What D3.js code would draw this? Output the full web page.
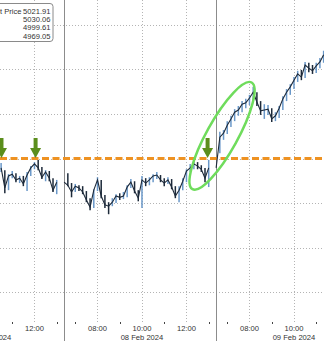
<!DOCTYPE html>
<html>
<head>
<meta charset="utf-8">
<script src="https://cdn.jsdelivr.net/npm/d3@7"></script>
<style>
  html, body { margin: 0; padding: 0; background: #fff; }
  svg { display: block; font-family: "Liberation Sans", Arial, sans-serif; }
</style>
</head>
<body>
<div id="chart"></div>
<script>
// trading days shown, each day slot runs 06:30 -> 13:20 (Pacific time)
let days = ["07 Feb 2024", "08 Feb 2024", "09 Feb 2024"];
let barStart = ["10:30", "06:40", "06:40"];   // first 10-min bar of each day

// 10 minute bars
let close1 = [4997.9,4993.4,4996.1,4996.5,4995.2,4995.6,4994.3,4996.3,4997.9,4998.8,4997.9,4995.8,4997.0,4995.6,4992.9,4994.7];
let high1  = [4999.0,4997.4,4996.5,4997.2,4996.7,4996.1,4996.1,4997.0,4998.3,4999.2,4999.7,4998.1,4997.4,4997.2,4995.6,4995.2];
let low1   = [4997.0,4992.2,4992.9,4995.6,4994.7,4994.5,4993.8,4992.7,4996.1,4997.6,4997.4,4995.4,4994.9,4994.9,4992.5,4992.0];

let close2 = [4994.0,4992.5,4993.8,4993.4,4992.5,4990.7,4989.1,4992.9,4995.2,4991.6,4989.6,4989.3,4990.2,4991.6,4991.3,4991.6,4993.6,4994.7,4992.7,4991.1,
              4995.2,4994.5,4995.2,4996.1,4996.3,4995.2,4994.5,4995.2,4993.6,4991.6,4992.9,4994.9,4997.2,4997.9,4998.8,4998.3,4997.6,4995.6,4997.9];
let high2  = [4996.7,4994.5,4994.3,4994.0,4993.8,4992.7,4991.1,4993.1,4995.8,4995.2,4991.8,4990.2,4991.1,4992.0,4992.2,4992.5,4994.0,4995.4,4994.9,4992.9,
              4996.1,4995.6,4995.8,4996.5,4997.0,4996.3,4995.6,4995.8,4995.4,4993.8,4993.8,4995.6,4997.6,4998.8,4999.4,4999.2,4998.5,4997.9,4999.7];
let low2   = [4993.8,4991.3,4992.5,4992.7,4992.0,4990.2,4988.4,4988.9,4992.7,4991.1,4988.9,4987.5,4989.3,4990.0,4990.7,4990.9,4991.3,4993.4,4992.2,4990.4,
              4988.9,4993.8,4994.0,4994.7,4995.4,4994.7,4993.8,4994.3,4993.1,4991.1,4990.2,4992.9,4994.7,4997.0,4997.6,4997.6,4997.0,4994.7,4993.6];

let close3 = [5004.8,5005.7,5007.5,5008.9,5010.4,5010.9,5012.2,5012.5,5013.6,5014.9,5012.7,5010.7,5010.9,5011.1,5008.9,5009.6,5011.3,5013.4,5014.9,5016.1,
              5017.6,5019.0,5018.3,5021.0,5020.3,5019.7,5020.8,5021.7,5023.3];
let high3  = [5006.0,5006.4,5008.4,5009.6,5011.1,5011.8,5012.9,5013.4,5014.3,5016.1,5014.9,5012.9,5012.2,5012.0,5011.3,5010.4,5011.8,5014.0,5015.6,5016.7,
              5018.3,5019.7,5019.9,5021.7,5021.5,5021.0,5021.5,5022.6,5024.2];
let low3   = [5001.2,5004.2,5005.5,5007.1,5008.4,5009.6,5010.4,5011.3,5012.0,5013.1,5011.8,5009.8,5008.9,5009.8,5008.2,5008.4,5009.1,5010.9,5012.9,5014.3,
              5015.6,5017.2,5017.6,5018.1,5019.4,5019.0,5019.2,5020.3,5021.5];

let level = 5000;
let priceTicks = [4970, 4980, 4990, 5000, 5010, 5020, 5030];
let labelTimes = ["08:00", "10:00", "12:00"];
let minorTimes = ["07:00", "09:00", "11:00", "13:00"];

let legendLabels = ["Last Price"];
let legendValues = ["5021.91", "5030.06", "4999.61", "4969.05"];

let arrowDays = [0, 0, 1];
let arrowTimes = ["10:31", "12:03", "12:57"];
let circleAt = [2, "06:46", 5005.1];

let width = 324, height = 341, plotBottom = 322;
let slot = 410;

function mins(s) { let p = s.split(":").map(Number); return p[0] * 60 + p[1] - 390; }
function tval(d, s) { return d * slot + mins(s); }

let x = d3.scaleLinear().domain([tval(0, "10:27"), tval(2, "11:21")]).range([0, width]);
let y = d3.scaleLinear().domain([4963.3, 5035.6]).range([plotBottom, 0]);

let svg = d3.select("#chart").append("svg")
    .attr("width", width)
    .attr("height", height);

// grid
svg.append("g")
    .selectAll("line")
    .data(priceTicks)
    .enter().append("line")
    .attr("x1", 0).attr("x2", width)
    .attr("y1", d => Math.round(y(d)) + 0.5).attr("y2", d => Math.round(y(d)) + 0.5)
    .attr("stroke", "#b4b4b4")
    .attr("stroke-dasharray", "1,2");

let labelTicks = [];
days.forEach((dd, i) => labelTimes.forEach(t => labelTicks.push({day: i, time: t})));
svg.append("g")
    .selectAll("line")
    .data(labelTicks)
    .enter().append("line")
    .attr("x1", d => Math.round(x(tval(d.day, d.time))) + 0.5)
    .attr("x2", d => Math.round(x(tval(d.day, d.time))) + 0.5)
    .attr("y1", 0).attr("y2", plotBottom)
    .attr("stroke", "#b4b4b4")
    .attr("stroke-dasharray", "1,2");

// day separators
svg.append("g")
    .selectAll("line")
    .data([1, 2])
    .enter().append("line")
    .attr("x1", d => Math.round(x(d * slot)) + 0.5)
    .attr("x2", d => Math.round(x(d * slot)) + 0.5)
    .attr("y1", 0).attr("y2", height)
    .attr("stroke", "#8c8c8c");

// x axis
let minorTicks = [];
days.forEach((dd, i) => minorTimes.forEach(t => minorTicks.push({day: i, time: t})));
svg.append("g")
    .selectAll("line")
    .data(minorTicks)
    .enter().append("line")
    .attr("x1", d => Math.round(x(tval(d.day, d.time))) + 0.5)
    .attr("x2", d => Math.round(x(tval(d.day, d.time))) + 0.5)
    .attr("y1", plotBottom).attr("y2", plotBottom + 2)
    .attr("stroke", "#444");

svg.append("g")
    .attr("font-size", 7.6)
    .attr("fill", "#333")
    .attr("text-anchor", "middle")
    .selectAll("text")
    .data(labelTicks)
    .enter().append("text")
    .attr("x", d => x(tval(d.day, d.time)))
    .attr("y", 331)
    .text(d => d.time);

svg.append("g")
    .attr("font-size", 7.6)
    .attr("fill", "#333")
    .attr("text-anchor", "middle")
    .selectAll("text")
    .data(days)
    .enter().append("text")
    .attr("x", (d, i) => x(tval(i, "10:00")))
    .attr("y", 339.5)
    .text(d => d);

// 5000 level
svg.append("line")
    .attr("x1", 0).attr("x2", width)
    .attr("y1", y(level)).attr("y2", y(level))
    .attr("stroke", "#ee9222")
    .attr("stroke-width", 3)
    .attr("stroke-dasharray", "7,3.5");

// price bars
let closes = [close1, close2, close3], highs = [high1, high2, high3], lows = [low1, low2, low3];
let bars = [], prev = null;
closes.forEach((c, d) => {
    let pts = [];
    if (prev !== null) pts.push({t: d * slot, v: prev});
    c.forEach((v, i) => {
        let t = tval(d, barStart[d]) + i * 10;
        bars.push({t: t, hi: highs[d][i], lo: lows[d][i], up: prev === null || v >= prev});
        pts.push({t: t, v: v});
        prev = v;
    });
    bars.push({path: pts});
});

svg.append("g")
    .selectAll("line")
    .data(bars.filter(b => !b.path))
    .enter().append("line")
    .attr("x1", d => x(d.t)).attr("x2", d => x(d.t))
    .attr("y1", d => y(d.hi)).attr("y2", d => y(d.lo))
    .attr("stroke", d => d.up ? "#6a98c9" : "#1d2a3a")
    .attr("stroke-width", 1.5);

let line = d3.line().x(d => x(d.t)).y(d => y(d.v));
svg.append("g")
    .selectAll("path")
    .data(bars.filter(b => b.path))
    .enter().append("path")
    .attr("d", d => line(d.path))
    .attr("fill", "none")
    .attr("stroke", "#1d2a3a")
    .attr("stroke-width", 1.1);

// annotations
svg.append("ellipse")
    .attr("transform", "translate(" + x(tval(circleAt[0], circleAt[1])) + "," + y(circleAt[2]) + ") rotate(-61)")
    .attr("rx", 61).attr("ry", 15.5)
    .attr("fill", "none")
    .attr("stroke", "#6fdc5c")
    .attr("stroke-width", 2.5);

svg.append("g")
    .selectAll("path")
    .data(arrowTimes)
    .enter().append("path")
    .attr("transform", (d, i) => "translate(" + x(tval(arrowDays[i], d)) + "," + (y(level) - 0.5) + ")")
    .attr("d", "M-2,-20H2V-10H5.5L0,0L-5.5,-10H-2Z")
    .attr("fill", "#5b8e1c");

// legend
let lg = svg.append("g");
lg.append("rect")
    .attr("x", -6).attr("y", 3.5)
    .attr("width", 59).attr("height", 38)
    .attr("rx", 3)
    .attr("fill", "#fff")
    .attr("stroke", "#8a8a8a");
lg.selectAll("text.v")
    .data(legendValues)
    .enter().append("text")
    .attr("class", "v")
    .attr("x", 50.5).attr("y", (d, i) => 13.8 + i * 8.3)
    .attr("text-anchor", "end")
    .attr("font-size", 7.6)
    .attr("fill", "#333")
    .text(d => d);
lg.selectAll("text.l")
    .data(legendLabels)
    .enter().append("text")
    .attr("class", "l")
    .attr("x", 21.5).attr("y", 13.8)
    .attr("text-anchor", "end")
    .attr("font-size", 7.6)
    .attr("fill", "#333")
    .text(d => d);
</script>
</body>
</html>
